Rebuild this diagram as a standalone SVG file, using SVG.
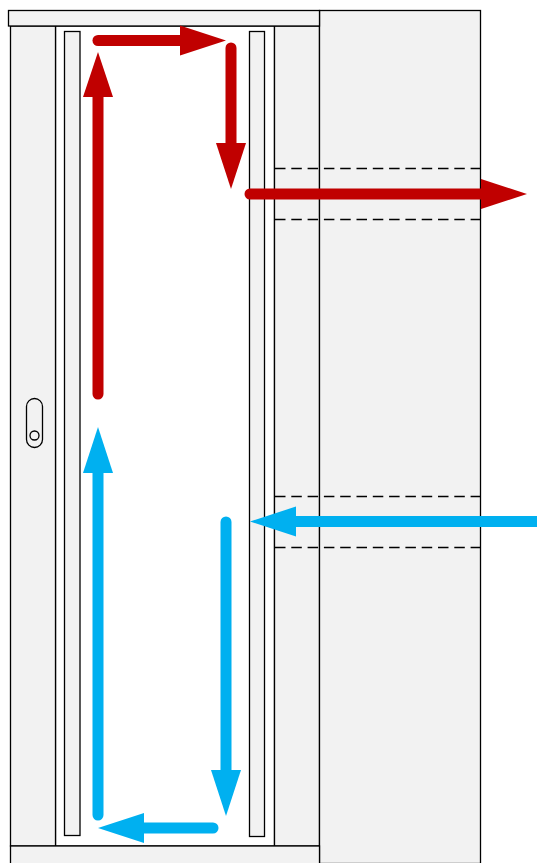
<svg xmlns="http://www.w3.org/2000/svg" width="537" height="863" viewBox="0 0 537 863">
<style>
.p{fill:#f2f2f2;stroke:#000;stroke-width:1.3}
.d{fill:none;stroke:#000;stroke-width:1.3;stroke-dasharray:10.500 5.800}
.r{fill:none;stroke:#c00000;stroke-width:11;stroke-linecap:round}
.b{fill:none;stroke:#00b0f0;stroke-width:11;stroke-linecap:round}
.rh{fill:#c00000}.bh{fill:#00b0f0}
</style>
<g id="cabinet">
<rect id="frame-inner" x="55.500" y="26" width="219" height="820" fill="#fff" stroke="#000" stroke-width="1.3"/>
<rect id="side-left" class="p" x="10.500" y="26" width="45" height="820"/>
<rect id="side-right" class="p" x="274.500" y="26" width="45" height="820"/>
<rect id="side-wide" class="p" x="319.500" y="10.500" width="161" height="853"/>
<rect id="top-bar" class="p" x="8.500" y="10.500" width="311" height="15.500"/>
<rect id="bottom-bar" class="p" x="10.500" y="846" width="309" height="18"/>
<rect id="slot-left" class="p" x="64.500" y="31.500" width="15.500" height="804"/>
<rect id="slot-right" class="p" x="249.500" y="31.500" width="15" height="805"/>
</g>
<g id="handle">
<rect class="p" x="26.500" y="398.500" width="16" height="49" rx="8" ry="8"/>
<circle class="p" cx="34.500" cy="435.500" r="4.500"/>
</g>
<g id="openings">
<path class="d" d="M275 168.500H481M275 219.500H481M275 496.500H481M275 547.500H481"/>
</g>
<g id="connectors">
<path class="r" d="M98 394V95"/><polygon class="rh" points="98,52 113,97 83,97"/>
<path class="r" d="M98 40.500H182"/><polygon class="rh" points="226,40.500 180,55.500 180,25.500"/>
<path class="r" d="M231 48V145"/><polygon class="rh" points="231,189 216,143 246,143"/>
<path class="r" d="M250 194H483"/><polygon class="rh" points="527,194 481,209 481,179"/>
<path class="b" d="M98 815V471"/><polygon class="bh" points="98,427 113,473 83,473"/>
<path class="b" d="M226 522V772"/><polygon class="bh" points="226,816 211,770 241,770"/>
<path class="b" d="M213 828H142"/><polygon class="bh" points="98,828 144,813 144,843"/>
<path class="b" d="M537 521.500H294" style="stroke-linecap:butt"/><polygon class="bh" points="250,521.500 296,506.500 296,536.500"/>
</g>
</svg>
